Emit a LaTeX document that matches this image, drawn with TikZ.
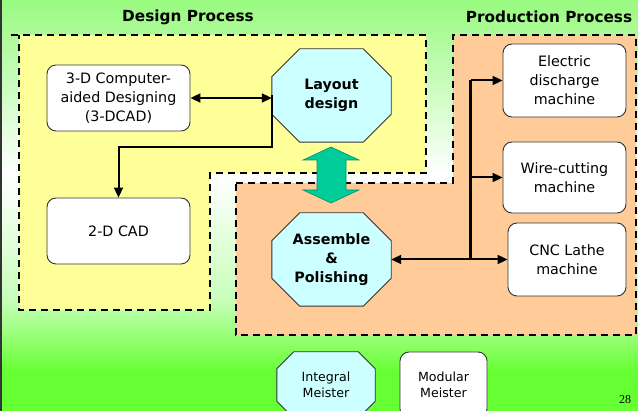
\documentclass[tikz,border=0pt]{standalone}
\usepackage{fontspec}
\setmainfont{DejaVu Sans}
\newfontfamily\pgnumfont{Liberation Serif}
\usetikzlibrary{calc,arrows.meta}
\pgfdeclarelayer{back}
\pgfdeclarelayer{mid}
\pgfsetlayers{back,mid,main}
\definecolor{topgreen}{RGB}{153,250,128}
\definecolor{midgreen}{RGB}{200,255,185}
\definecolor{botgreen}{RGB}{102,255,51}
\definecolor{yel}{RGB}{255,255,153}
\definecolor{ora}{RGB}{255,204,153}
\definecolor{cyanfill}{RGB}{204,255,255}
\definecolor{tealarrow}{RGB}{0,204,153}
\definecolor{edgegray}{RGB}{51,51,51}
\newcommand\octoutline[2]{%
  \begin{pgfonlayer}{mid}
  \draw[octstyle] ($(#1.north west)+(#2,0pt)$) -- ($(#1.north east)+(-#2,0pt)$)
    -- ($(#1.north east)+(0pt,-#2)$) -- ($(#1.south east)+(0pt,#2)$)
    -- ($(#1.south east)+(-#2,0pt)$) -- ($(#1.south west)+(#2,0pt)$)
    -- ($(#1.south west)+(0pt,#2)$) -- ($(#1.north west)+(0pt,-#2)$) -- cycle;
  \end{pgfonlayer}}
\begin{document}
\begin{tikzpicture}[x=1pt,y=-1pt,
  box/.style={draw=edgegray,line width=0.9pt,fill=white,rounded corners=9pt,
    align=center,inner sep=0pt,font=\fontsize{14.3}{19}\selectfont},
  octnode/.style={align=center,inner sep=0pt,font=\bfseries\fontsize{14.3}{19}\selectfont},
  smallnode/.style={font=\fontsize{12.6}{16}\selectfont},
  octstyle/.style={draw=edgegray,line width=0.9pt,fill=cyanfill},
  conn/.style={line width=2pt,-{Triangle[length=10pt,width=9pt]}},
  biconn/.style={line width=2pt,{Triangle[length=10pt,width=9pt]}-{Triangle[length=10pt,width=9pt]}},
  regionline/.style={line width=1.5pt,dash pattern=on 7pt off 5pt},
  titletext/.style={font=\bfseries\fontsize{15.3}{18}\selectfont}]
\useasboundingbox (0,0) rectangle (638,411);
\begin{pgfonlayer}{back}
  \shade[top color=topgreen,bottom color=white] (0,0) rectangle (638,175);
  \shade[top color=white,bottom color=midgreen] (0,175) rectangle (638,300);
  \shade[top color=midgreen,bottom color=botgreen] (0,300) rectangle (638,372);
  \fill[botgreen] (0,372) rectangle (638,411);
  \fill[edgegray] (0,0) rectangle (2,411);
  % design region
  \fill[yel] (19,35) -- (426,35) -- (426,173) -- (210,173) -- (210,310) -- (19,310) -- cycle;
  \draw[regionline] (11,35) -- (426,35) -- (426,173) -- (210,173) -- (210,310) -- (19,310) -- (19,35);
  % production region
  \fill[ora] (236,183) -- (453,183) -- (453,35) -- (636,35) -- (636,335) -- (236,335) -- cycle;
  \draw[regionline] (236,183) -- (453,183) -- (453,35) -- (636,35) -- (636,335) -- (236,335) -- cycle;
\end{pgfonlayer}

\node[titletext] (t1) at (188,17) {Design Process};
\node[titletext] (t2) at (549,17) {Production Process};

\node[box,minimum width=143pt,minimum height=66pt] (cad3) at (118.5,98) {3-D Computer-\\aided Designing\\(3-DCAD)};
\node[box,minimum width=143pt,minimum height=66pt] (cad2) at (118.5,231) {2-D CAD};
\node[octnode,minimum width=119pt,minimum height=93pt] (layout) at (331.5,95.5) {Layout\\design};
\node[octnode,minimum width=119pt,minimum height=93pt] (assemble) at (331.5,259.5) {Assemble\\\&\\Polishing};
\octoutline{layout}{28pt}
\octoutline{assemble}{28pt}

\node[box,minimum width=123pt,minimum height=73pt] (edm) at (564.5,80.5) {Electric\\discharge\\machine};
\node[box,minimum width=123pt,minimum height=71pt] (wire) at (564.5,177.5) {Wire-cutting\\machine};
\node[box,minimum width=118pt,minimum height=73pt] (cnc) at (567,259.5) {CNC Lathe\\machine};

\node[smallnode,align=center,inner sep=0pt,minimum width=98pt,minimum height=66pt] (integral) at (326,385) {Integral\\Meister};
\octoutline{integral}{17pt}
\node[box,smallnode,minimum width=87pt,minimum height=66pt] (modular) at (443.5,385) {Modular\\Meister};

\node[font=\pgnumfont\fontsize{12}{14}\selectfont,inner sep=0pt] (pg) at (625,400) {28};

% connectors
\draw[biconn] (cad3.east) -- (cad3.east -| layout.west);
\draw[conn] (layout.west) |- ($(cad2.north)+(0,-51)$) -- (cad2.north);

\path (cnc.west) ++(-37,0) coordinate (j);
\draw[biconn] (assemble.east) -- (cnc.west);
\draw[line width=2.6pt] (j) -- (j |- edm.west);
\draw[conn] (j |- edm.west) -- (edm.west);
\draw[conn] (j |- wire.west) -- (wire.west);

% green double block arrow
\draw[fill=tealarrow,draw=tealarrow!70!black,line width=0.6pt]
  (331,147) -- (359,160) -- (346,160) -- (346,190) -- (359,190) -- (331,203)
  -- (303,190) -- (317,190) -- (317,160) -- (303,160) -- cycle;
\end{tikzpicture}
\end{document}
